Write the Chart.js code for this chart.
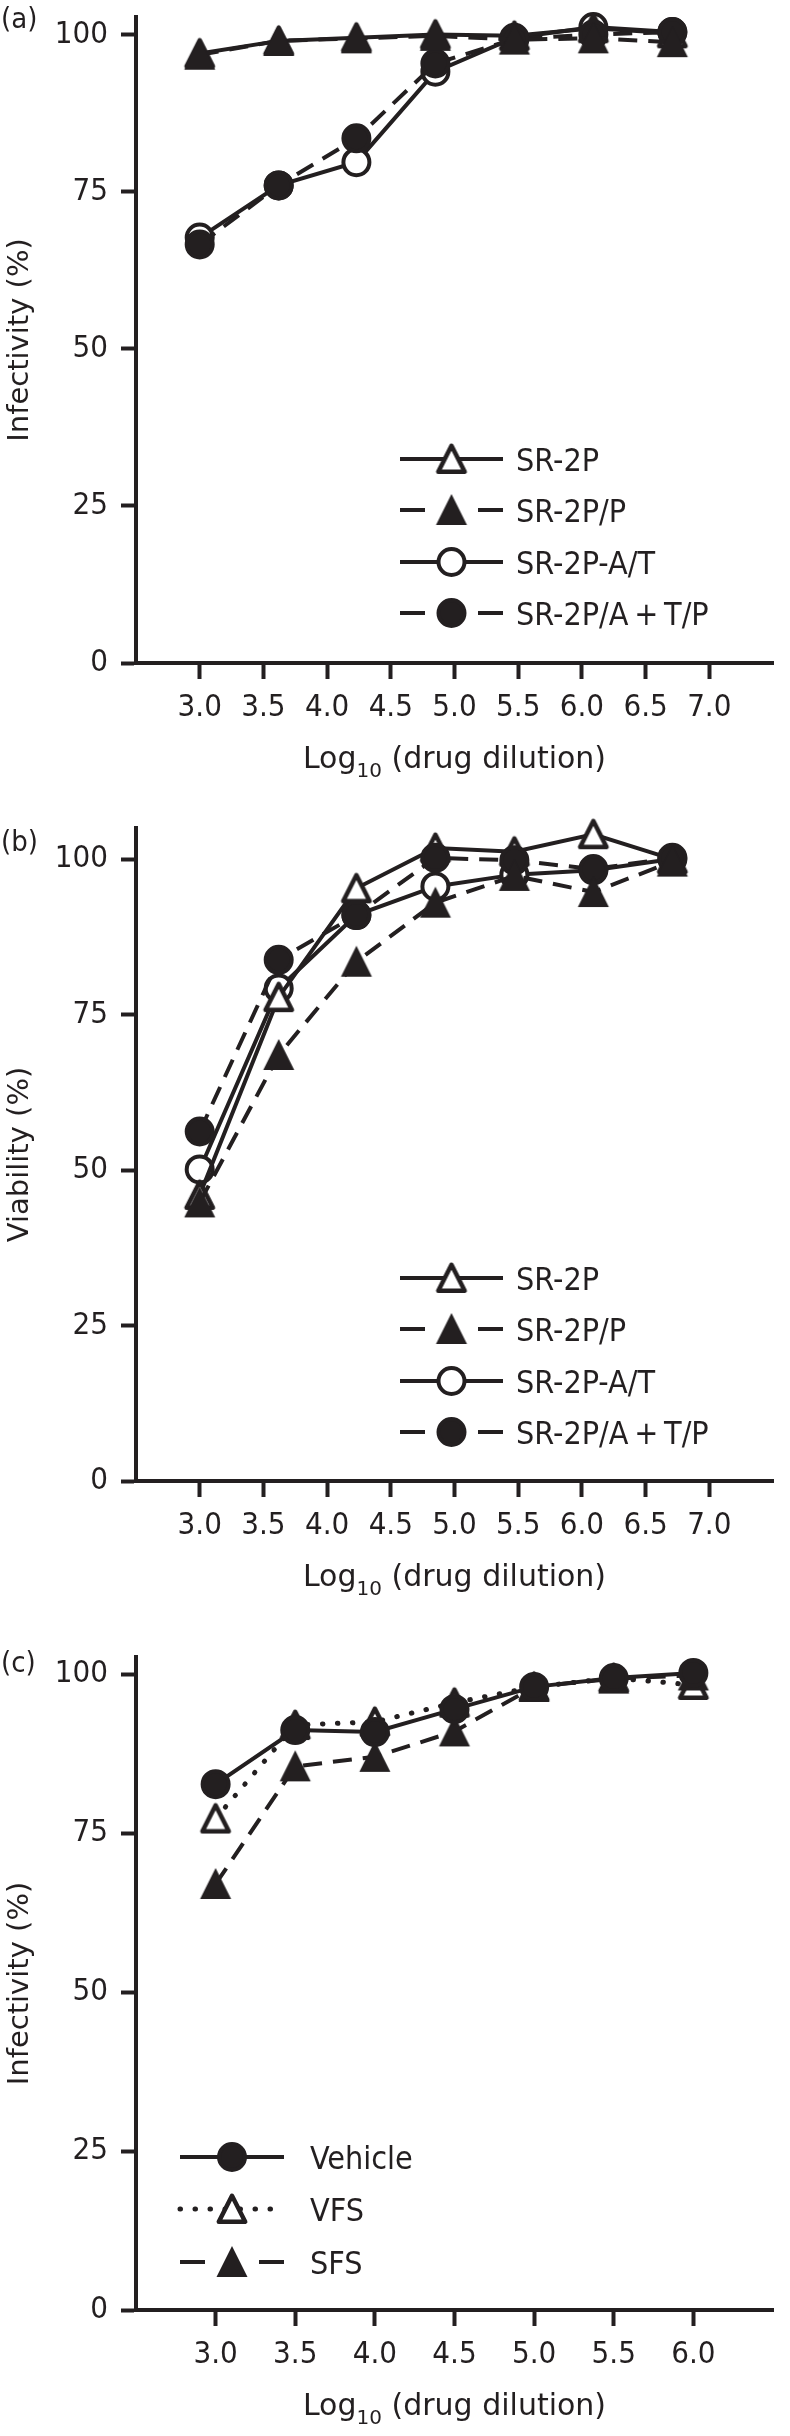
<!DOCTYPE html>
<html>
<head>
<meta charset="utf-8">
<title>Infectivity and viability</title>
<script src="https://cdn.jsdelivr.net/npm/chart.js@4.4.1/dist/chart.umd.min.js"></script>
<style>
    html, body { margin: 0; padding: 0; background: #fff; }
    canvas { display: block; }
</style>
</head>
<body>
<canvas id="chartA" width="790" height="800"></canvas>
<canvas id="chartB" width="790" height="840"></canvas>
<canvas id="chartC" width="790" height="796"></canvas>
<script>
// Log10 dilution steps
const dilutionsAB = [3.0, 3.62, 4.23, 4.85, 5.47, 6.09, 6.71];
const dilutionsC = [3.0, 3.5, 4.0, 4.5, 5.0, 5.5, 6.0];
const xTicksAB = [3.0, 3.5, 4.0, 4.5, 5.0, 5.5, 6.0, 6.5, 7.0];
const xTicksC = [3.0, 3.5, 4.0, 4.5, 5.0, 5.5, 6.0];
const yTicks = [0, 25, 50, 75, 100];

// (a) infectivity (%)
const infSR2P = [97.0, 99.0, 99.5, 100.0, 99.8, 101.0, 100.2];
const infSR2PP = [96.8, 99.0, 99.4, 99.8, 99.2, 99.4, 98.8];
const infSR2PAT = [67.7, 76.0, 79.7, 94.1, 99.5, 101.2, 100.4];
const infSR2PATP = [66.6, 76.0, 83.5, 95.4, 99.3, 100.0, 100.4];

// (b) viability (%)
const viaSR2P = [46.0, 77.8, 95.3, 101.8, 101.2, 104.0, 100.0];
const viaSR2PP = [44.8, 68.5, 83.5, 93.0, 97.3, 94.7, 99.6];
const viaSR2PAT = [50.1, 79.2, 91.0, 95.6, 97.5, 98.2, 100.0];
const viaSR2PATP = [56.2, 83.8, 91.0, 100.2, 99.8, 98.4, 100.2];

// (c) infectivity (%)
const infVehicle = [82.7, 91.2, 90.9, 94.5, 98.0, 99.4, 100.2];
const infVFS = [77.3, 92.0, 92.5, 95.5, 98.0, 99.4, 98.3];
const infSFS = [67.0, 85.5, 87.0, 91.0, 98.0, 99.3, 99.8];

const INK = '#231f20';
const condensed = "'DejaVu Sans Condensed', 'DejaVu Sans', sans-serif";
const regular = "'DejaVu Sans', sans-serif";

const SOLID = [];
const DASHED = [19, 11];
const DOTTED = [0.5, 14.5];

// triangle symbols drawn once as small canvases
function triangleMarker(filled) {
    const c = document.createElement('canvas');
    c.width = 36;
    c.height = 36;
    const g = c.getContext('2d');
    g.lineJoin = 'round';
    g.beginPath();
    if (filled) {
        g.moveTo(18, 2);
        g.lineTo(33.5, 33);
        g.lineTo(2.5, 33);
        g.closePath();
        g.fillStyle = INK;
        g.fill();
    } else {
        g.moveTo(18, 4.8);
        g.lineTo(31.2, 30.8);
        g.lineTo(4.8, 30.8);
        g.closePath();
        g.fillStyle = '#fff';
        g.fill();
        g.lineWidth = 4.5;
        g.strokeStyle = INK;
        g.stroke();
    }
    return c;
}
const openTriangle = triangleMarker(false);
const filledTriangle = triangleMarker(true);

function series(label, xs, ys, marker, dash, order) {
    let pointStyle = 'circle';
    if (marker === 'openTriangle') pointStyle = openTriangle;
    if (marker === 'filledTriangle') pointStyle = filledTriangle;
    return {
        label: label,
        data: ys.map((y, i) => ({ x: xs[i], y: y })),
        borderColor: INK,
        borderWidth: dash === DOTTED ? 5 : 4,
        borderDash: dash,
        borderCapStyle: dash === DOTTED ? 'round' : 'butt',
        tension: 0,
        pointStyle: pointStyle,
        pointRadius: 13,
        pointBorderWidth: 4,
        pointBorderColor: INK,
        pointBackgroundColor: marker === 'openCircle' ? '#fff' : INK,
        clip: false,
        order: order
    };
}

// panel letter, x title with subscript, and line+symbol key
const annotate = {
    id: 'annotate',
    afterDraw(chart, args, opts) {
        const ctx = chart.ctx;
        const area = chart.chartArea;
        ctx.save();
        ctx.fillStyle = INK;
        ctx.textAlign = 'left';

        ctx.font = '29px ' + condensed;
        ctx.textBaseline = 'middle';
        ctx.fillText(opts.letter, 1, opts.letterY);

        ctx.textBaseline = 'alphabetic';
        const mainFont = '30px ' + regular;
        const subFont = '20px ' + regular;
        ctx.font = mainFont;
        const w1 = ctx.measureText('Log').width;
        const w3 = ctx.measureText(' (drug dilution)').width;
        ctx.font = subFont;
        const w2 = ctx.measureText('10').width;
        let x = (area.left + area.right) / 2 - (w1 + w2 + w3) / 2;
        const base = area.bottom + 105;
        ctx.font = mainFont;
        ctx.fillText('Log', x, base);
        x += w1;
        ctx.font = subFont;
        ctx.fillText('10', x, base + 9);
        x += w2;
        ctx.font = mainFont;
        ctx.fillText(' (drug dilution)', x, base);

        const key = opts.key;
        chart.data.datasets.forEach((ds, i) => {
            const y = key.rows[i];
            const x0 = key.x;
            const x1 = key.x + key.len;
            const mid = (x0 + x1) / 2;
            ctx.strokeStyle = INK;
            ctx.lineWidth = ds.borderWidth;
            ctx.lineCap = ds.borderCapStyle;
            ctx.beginPath();
            if (ds.borderDash === DASHED) {
                ctx.setLineDash([]);
                ctx.moveTo(x0, y); ctx.lineTo(x0 + 25, y);
                ctx.moveTo(x1 - 25, y); ctx.lineTo(x1, y);
            } else {
                ctx.setLineDash(ds.borderDash);
                ctx.moveTo(x0, y); ctx.lineTo(x1, y);
            }
            ctx.stroke();
            ctx.setLineDash([]);
            if (typeof ds.pointStyle === 'object') {
                ctx.drawImage(ds.pointStyle, mid - ds.pointStyle.width / 2, y - ds.pointStyle.height / 2);
            } else {
                ctx.beginPath();
                ctx.arc(mid, y, ds.pointRadius, 0, Math.PI * 2);
                ctx.fillStyle = ds.pointBackgroundColor;
                ctx.fill();
                ctx.lineWidth = ds.pointBorderWidth;
                ctx.stroke();
            }
            ctx.fillStyle = INK;
            ctx.font = '32px ' + condensed;
            ctx.fillText(ds.label, key.textX, y + 12);
        });
        ctx.restore();
    }
};

function buildChart(id, cfg) {
    const canvas = document.getElementById(id);
    const axisHeight = canvas.height - cfg.bottom;
    return new Chart(canvas, {
        type: 'line',
        data: { datasets: cfg.datasets },
        options: {
            responsive: false,
            devicePixelRatio: 1,
            animation: false,
            events: [],
            layout: { padding: { top: cfg.top, left: 0, right: 0, bottom: 0 } },
            plugins: {
                legend: { display: false },
                tooltip: { enabled: false },
                annotate: { letter: cfg.letter, letterY: cfg.letterY, key: cfg.key }
            },
            scales: {
                x: {
                    type: 'linear',
                    min: 2.5,
                    max: cfg.xMax,
                    afterBuildTicks: axis => { axis.ticks = cfg.xTicks.map(v => ({ value: v })); },
                    afterFit: axis => {
                        axis.height = axisHeight;
                        axis.paddingLeft = 0;
                        axis.paddingRight = 0;
                    },
                    border: { display: true, color: INK, width: 4 },
                    grid: { display: true, drawOnChartArea: false, drawTicks: true, tickLength: 16, tickWidth: 4, tickColor: INK, color: INK },
                    ticks: {
                        color: INK,
                        font: { family: condensed, size: 31 },
                        padding: 10,
                        autoSkip: false,
                        maxRotation: 0,
                        callback: v => Number(v).toFixed(1)
                    }
                },
                y: {
                    type: 'linear',
                    min: 0,
                    max: cfg.yMax,
                    afterBuildTicks: axis => { axis.ticks = yTicks.map(v => ({ value: v })); },
                    afterFit: axis => {
                        axis.width = 136;
                        axis.paddingTop = 0;
                        axis.paddingBottom = 0;
                    },
                    border: { display: true, color: INK, width: 4 },
                    grid: { display: true, drawOnChartArea: false, drawTicks: true, tickLength: 15, tickWidth: 4, tickColor: INK, color: INK },
                    ticks: {
                        color: INK,
                        font: { family: condensed, size: 31 },
                        padding: 13,
                        callback: v => String(v)
                    },
                    title: {
                        display: true,
                        text: cfg.yTitle,
                        color: INK,
                        font: { family: regular, size: 29 },
                        padding: { top: 3, bottom: 0 }
                    }
                }
            }
        },
        plugins: [annotate]
    });
}

buildChart('chartA', {
    letter: '(a)', letterY: 20,
    top: 10, bottom: 663, yMax: 102.8, xMax: 7.5, xTicks: xTicksAB,
    yTitle: 'Infectivity (%)',
    key: { x: 400, len: 103, textX: 516, rows: [459, 510, 562, 613] },
    datasets: [
        series('SR-2P', dilutionsAB, infSR2P, 'openTriangle', SOLID, 1),
        series('SR-2P/P', dilutionsAB, infSR2PP, 'filledTriangle', DASHED, 0),
        series('SR-2P-A/T', dilutionsAB, infSR2PAT, 'openCircle', SOLID, 1),
        series('SR-2P/A\u2009+\u2009T/P', dilutionsAB, infSR2PATP, 'filledCircle', DASHED, 0)
    ]
});

buildChart('chartB', {
    letter: '(b)', letterY: 43,
    top: 28, bottom: 681, yMax: 105, xMax: 7.5, xTicks: xTicksAB,
    yTitle: 'Viability (%)',
    key: { x: 400, len: 103, textX: 516, rows: [478, 529, 581, 632] },
    datasets: [
        series('SR-2P', dilutionsAB, viaSR2P, 'openTriangle', SOLID, 1),
        series('SR-2P/P', dilutionsAB, viaSR2PP, 'filledTriangle', DASHED, 0),
        series('SR-2P-A/T', dilutionsAB, viaSR2PAT, 'openCircle', SOLID, 1),
        series('SR-2P/A\u2009+\u2009T/P', dilutionsAB, viaSR2PATP, 'filledCircle', DASHED, 0)
    ]
});

buildChart('chartC', {
    letter: '(c)', letterY: 24,
    top: 17, bottom: 670, yMax: 102.7, xMax: 6.5, xTicks: xTicksC,
    yTitle: 'Infectivity (%)',
    key: { x: 180, len: 104, textX: 310, rows: [517, 569, 622] },
    datasets: [
        series('Vehicle', dilutionsC, infVehicle, 'filledCircle', SOLID, 0),
        series('VFS', dilutionsC, infVFS, 'openTriangle', DOTTED, 1),
        series('SFS', dilutionsC, infSFS, 'filledTriangle', DASHED, 0)
    ]
});
</script>
</body>
</html>
